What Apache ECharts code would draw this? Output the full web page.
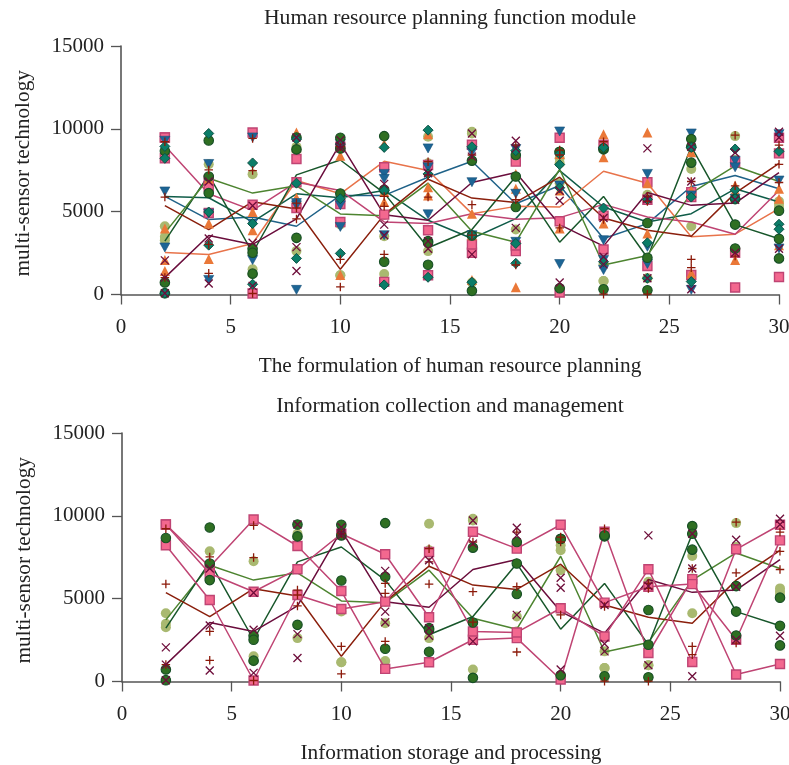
<!DOCTYPE html>
<html><head><meta charset="utf-8">
<style>html,body{margin:0;padding:0;background:#fff}#c{width:789px;height:765px}</style>
<script src="https://cdn.jsdelivr.net/npm/echarts@6/dist/echarts.min.js"></script>
</head><body><div id="c"></div>
<script>
const xs=[2,4,6,8,10,12,14,16,18,20,22,24,26,28,30];
const panelTitles=["Human resource planning function module","Information collection and management"];
const xNames=["The formulation of human resource planning","Information storage and processing"];
const yName="multi-sensor technology";
// line series
const lineBlue=[5920,4520,4680,4120,5980,5980,7080,8040,5480,6580,3380,4280,6520,7180,6380];
const lineTeal=[5920,5840,4380,6080,5840,6280,4480,3380,4580,7480,5280,4380,4880,6380,5580];
const lineOrange=[2540,2420,3080,6880,6080,8040,7480,4880,5320,5280,7440,6720,3480,3640,5180];
const linePink=[8980,6080,5080,6780,6280,4380,4280,4880,4540,4640,5440,4680,4380,3640,6280];
const lineDarkGreen=[3220,7220,2520,7220,8120,6120,2820,3920,7120,3160,5920,2220,8920,4220,3360];
const lineOlive=[3720,7020,6120,6560,4860,4760,6720,3820,3160,7560,1780,2360,6120,7760,6820];
const lineRed=[5360,3920,5600,5160,1520,4820,6960,5820,5560,7080,4620,3880,3520,6120,7920];
const linePurple=[1020,3560,3020,4560,9120,4820,4480,6760,7360,4220,2920,6160,5380,5520,7360];
// squares
const squareA=[9480,6920,9780,8180,5460,760,1160,2520,2620,120,9040,1720,6180,420,1060];
const squareB=[8220,4920,60,5220,4380,4820,7820,3020,2960,4420,2720,6780,1180,7980,9460];
const squareC=[9480,6520,5420,6780,8920,7680,3880,9040,8020,9460,4760,5720,5880,2520,8520];
// olive circles
const olive1=[4120,7860,7260,8720,4220,3520,9520,9820,3920,8220,820,6020,7580,9560,5620];
const olive2=[3480,6820,1520,2620,1160,1240,7920,720,2620,7920,1820,980,4120,8120,5420];
const olive3=[3280,6120,1220,8920,1160,4820,2620,9720,3020,6720,820,980,6220,5760,5220];
// dark green circles
const green1=[8660,9300,2760,8760,9460,9560,3220,8080,8420,8620,8760,4320,9380,5760,5060];
const green2=[720,6120,2520,3420,8820,6320,3120,220,7120,380,8820,2220,8920,4220,3360];
const green3=[80,7120,1260,9480,6100,1980,1800,3560,5280,8600,320,260,7960,2780,2180];
// plus marks
const plus1=[9220,7520,9420,5520,8920,5920,8020,8420,9020,8720,9220,5920,6820,9620,9020];
const plus2=[5880,3020,7480,5220,2120,5320,7220,5420,5720,8420,4520,5620,2120,6560,7860];
const plus3=[1020,1280,60,4560,460,2420,5880,3580,1780,4020,20,20,1620,2320,6760];
// cross marks
const cross1=[2060,3380,5360,9480,9320,6680,7320,9720,9280,6260,4620,8820,8920,8560,9820];
const cross2=[1020,660,3120,2860,8980,4220,3220,8320,8820,5660,2280,5760,6820,5720,9480];
const cross3=[80,6820,520,1420,8820,3580,2760,2420,4020,720,1820,980,320,2520,2760];
// diamonds (top panel)
const diamond1=[8940,9720,7940,9380,2480,8880,9920,8920,3080,7840,5220,5740,5880,8780,8640];
const diamond2=[8220,4980,4280,6720,5780,6280,7280,3580,1880,6440,1980,3120,780,6320,4240];
const diamond3=[80,2980,620,2180,9080,580,1040,740,8680,8480,8880,980,8880,5780,3940];
// orange triangles (top panel)
const tri1=[3980,4280,4980,9780,8380,9080,9680,4880,7280,8480,9680,9780,8580,6580,6380];
const tri2=[2080,2140,3880,5840,1180,5580,6480,3580,6380,6280,8280,6720,1280,6280,5780];
const tri3=[1420,6980,2880,8880,6080,6180,5980,880,440,3980,4280,3680,6280,2080,2980];
// blue down triangles (top panel)
const down1=[9280,7880,9480,5520,5380,7280,8820,8580,6080,9840,3280,7280,9720,8080,9680];
const down2=[6220,4880,4280,5380,4080,6980,7680,6780,8780,6580,1480,2880,5980,7680,6880];
const down3=[2840,880,2080,280,9080,3580,4840,3580,3180,1840,2080,1840,280,5780,2780];

const pts=a=>a.map((v,i)=>[xs[i],v]);
const FONT="Liberation Serif";
const PLUS="path://M0 -1L0 1M-1 0L1 0";
const CROSS="path://M-1 -1L1 1M-1 1L1 -1";
const COL={blue:"#1f6288",teal:"#0f5c48",orange:"#e8734a",pink:"#bf4473",dg:"#17562a",ol:"#4d8430",red:"#8a1f0c",pur:"#6a0d3c"};
function marks(g,arrs,st){return arrs.map(a=>Object.assign({type:"scatter",xAxisIndex:g,yAxisIndex:g,data:pts(a),silent:true},st));}
function line(g,a,c,extra){return Object.assign({type:"line",xAxisIndex:g,yAxisIndex:g,data:pts(a),showSymbol:false,symbol:"none",lineStyle:{color:c,width:1.5},silent:true,z:3},extra||{});}
const sOlive={symbol:"circle",symbolSize:10,itemStyle:{color:"#a9b970",borderWidth:0,opacity:1},z:2};
const sSquare={symbol:"rect",symbolSize:9,itemStyle:{color:"#f3688f",borderColor:"#bf4473",borderWidth:1.4,opacity:1},z:4};
const sGreen={symbol:"circle",symbolSize:9.5,itemStyle:{color:"#2f6f22",borderColor:"#174f26",borderWidth:1.1,opacity:1},z:6};
const sPlus={symbol:PLUS,symbolSize:8.5,itemStyle:{color:"transparent",borderColor:"#8c1a0a",borderWidth:1.3,opacity:1},z:7};
const sCross={symbol:CROSS,symbolSize:8,itemStyle:{color:"transparent",borderColor:"#6d0d3a",borderWidth:1.3,opacity:1},z:8};
const sDiamond={symbol:"diamond",symbolSize:10,itemStyle:{color:"#0b7d68",borderColor:"#0c5145",borderWidth:1,opacity:1},z:6};
const sTri={symbol:"triangle",symbolSize:[10,10],itemStyle:{color:"#ea7838",borderWidth:0,opacity:1},z:4};
const sDown={symbol:"triangle",symbolRotate:180,symbolSize:[10,9],itemStyle:{color:"#1c6595",borderColor:"#185078",borderWidth:0.6,opacity:1},z:5};

const series=[
 ...marks(0,[olive1,olive2,olive3],sOlive),
 ...marks(0,[squareA,squareB,squareC],sSquare),
 ...marks(0,[tri1,tri2,tri3],sTri),
 ...marks(0,[down1,down2,down3],sDown),
 ...marks(0,[green1,green2,green3],sGreen),
 ...marks(0,[diamond1,diamond2,diamond3],sDiamond),
 ...marks(0,[plus1,plus2,plus3],sPlus),
 ...marks(0,[cross1,cross2,cross3],sCross),
 line(0,lineBlue,COL.blue),line(0,lineTeal,COL.teal),line(0,lineOrange,COL.orange),line(0,linePink,COL.pink),
 line(0,lineDarkGreen,COL.dg),line(0,lineOlive,COL.ol),line(0,lineRed,COL.red),line(0,linePurple,COL.pur),
 ...marks(1,[olive1,olive2,olive3],sOlive),
 ...marks(1,[green1,green2,green3],sGreen),
 ...marks(1,[plus1,plus2,plus3],sPlus),
 ...marks(1,[cross1,cross2,cross3],sCross),
 line(1,lineOlive,COL.ol),line(1,lineDarkGreen,COL.dg),line(1,lineRed,COL.red),line(1,linePurple,COL.pur),
 ...[squareA,squareB,squareC].map(a=>line(1,a,COL.pink,{showSymbol:true,symbol:"rect",symbolSize:9,itemStyle:{color:"#f3688f",borderColor:"#bf4473",borderWidth:1.4,opacity:1},z:5}))
];
const axisLine={show:true,onZero:false,lineStyle:{color:"#555",width:1.6}};
const axisTick={show:true,length:10,lineStyle:{color:"#555",width:1.3}};
const axisLabel={color:"#222",fontFamily:FONT,fontSize:21,formatter:v=>String(v)};
const nameStyle={color:"#222",fontFamily:FONT,fontSize:21.3};
function xA(g){return {gridIndex:g,type:"value",min:0,max:30,interval:5,splitLine:{show:false},axisLine,axisTick,axisLabel:Object.assign({},axisLabel,{margin:22.5}),name:xNames[g],nameLocation:"middle",nameGap:61,nameTextStyle:nameStyle};}
function yA(g){return {gridIndex:g,type:"value",min:0,max:15000,interval:5000,splitLine:{show:false},axisLine,axisTick,axisLabel:Object.assign({},axisLabel,{margin:17}),name:yName,nameLocation:"middle",nameGap:87,nameTextStyle:Object.assign({},nameStyle,{padding:[0,6,0,0]})};}
const titleStyle={color:"#222",fontFamily:FONT,fontSize:21.7,fontWeight:"normal"};
echarts.init(document.getElementById("c"),null,{renderer:"canvas"}).setOption({
 animation:false,backgroundColor:"#fff",
 title:[
  {text:panelTitles[0],left:445,top:2,textAlign:"center",textStyle:titleStyle},
  {text:panelTitles[1],left:445,top:390,textAlign:"center",textStyle:titleStyle}
 ],
 grid:[{left:121,top:46,width:658,height:248.5,outerBoundsMode:"none"},{left:122,top:433,width:658,height:248.5,outerBoundsMode:"none"}],
 xAxis:[xA(0),xA(1)],yAxis:[yA(0),yA(1)],series
});
</script></body></html>
